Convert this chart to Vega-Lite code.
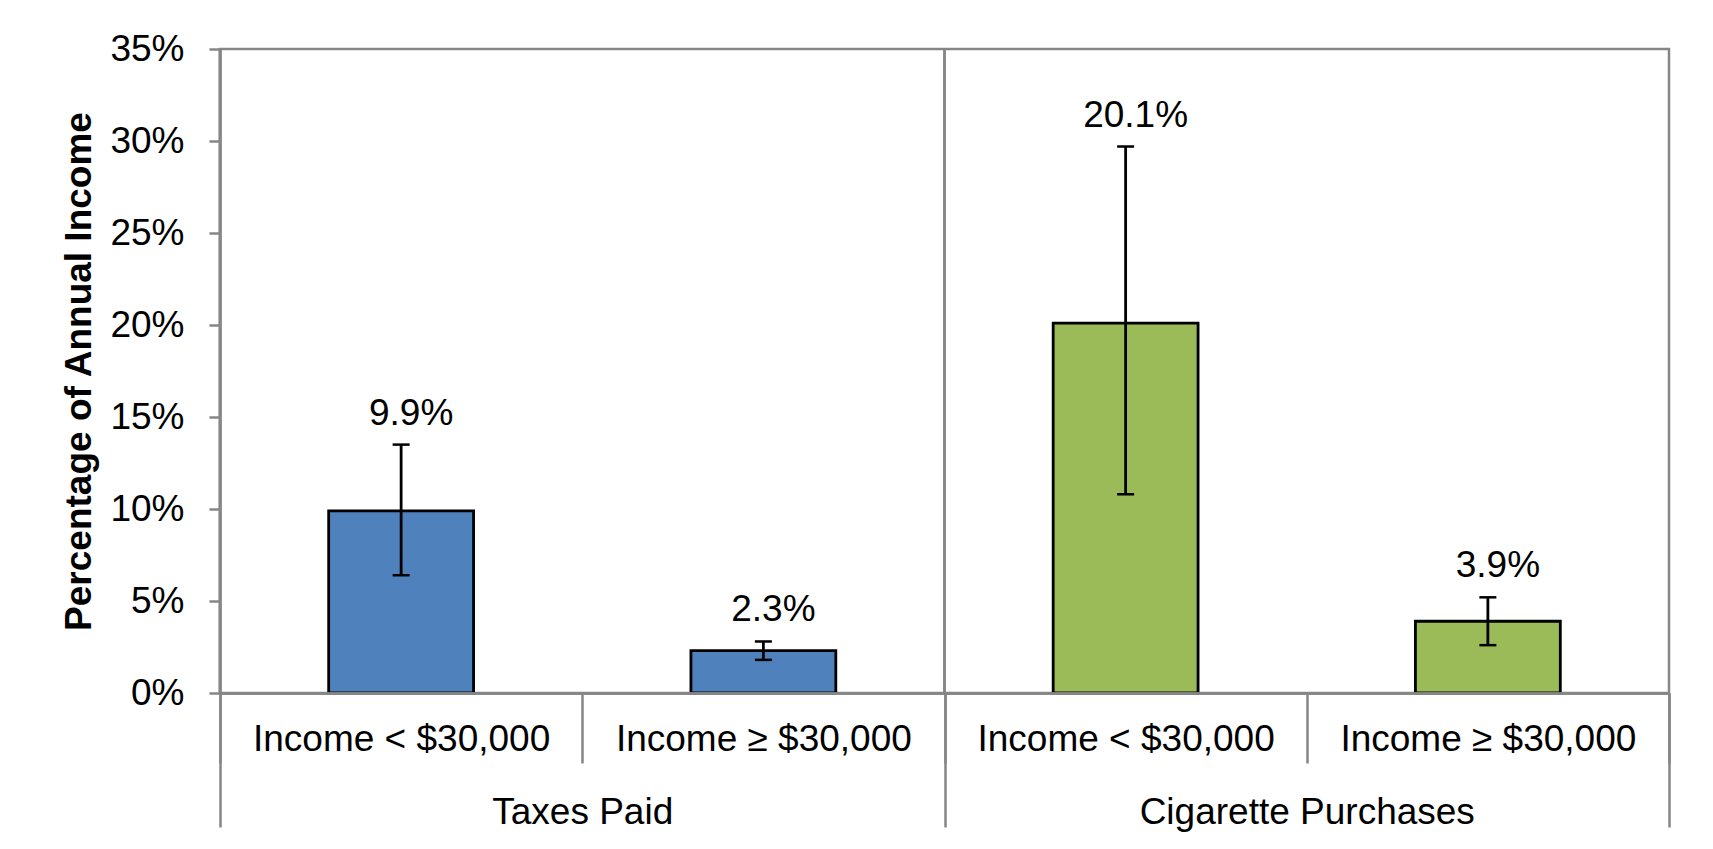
{
  "$schema": "https://vega.github.io/schema/vega-lite/v6.json",
  "autosize": {"type": "none"},
  "width": 1449,
  "height": 644,
  "padding": {"left": 220, "top": 49, "right": 44, "bottom": 156},
  "background": "white",
  "config": {
    "view": {"stroke": "#868686", "strokeWidth": 2.5},
    "font": "Liberation Sans",
    "axis": {
      "labelFont": "Liberation Sans",
      "labelColor": "#000000",
      "titleFont": "Liberation Sans",
      "titleColor": "#000000",
      "domainColor": "#868686",
      "tickColor": "#868686",
      "domainWidth": 2.5,
      "tickWidth": 2.5,
      "labelFontSize": 37,
      "titleFontSize": 37,
      "grid": false,
      "labelLimit": 0
    }
  },
  "data": {
    "values": [
      {"group": "Taxes Paid", "income": "Income < $30,000", "bar": "Taxes Paid|Income < $30,000", "value": 0.099, "lo": 0.064, "hi": 0.135},
      {"group": "Taxes Paid", "income": "Income ≥ $30,000", "bar": "Taxes Paid|Income ≥ $30,000", "value": 0.023, "lo": 0.018, "hi": 0.028},
      {"group": "Cigarette Purchases", "income": "Income < $30,000", "bar": "Cigarette Purchases|Income < $30,000", "value": 0.201, "lo": 0.108, "hi": 0.297},
      {"group": "Cigarette Purchases", "income": "Income ≥ $30,000", "bar": "Cigarette Purchases|Income ≥ $30,000", "value": 0.039, "lo": 0.026, "hi": 0.052}
    ]
  },
  "layer": [
    {
      "mark": {"type": "rule", "color": "#868686", "strokeWidth": 2.5},
      "encoding": {
        "x": {
          "field": "group",
          "type": "nominal",
          "bandPosition": 0,
          "sort": ["Taxes Paid", "Cigarette Purchases"],
          "scale": {"type": "band", "paddingInner": 0, "paddingOuter": 0},
          "axis": {
            "orient": "bottom",
            "title": null,
            "labelAngle": 0,
            "tickBand": "extent",
            "tickSize": 134,
            "labelPadding": -33,
            "labelBaseline": "top",
            "zindex": 1
          }
        }
      }
    },
    {
      "layer": [
        {
          "mark": {"type": "bar", "width": {"band": 0.4}, "stroke": "#000000", "strokeWidth": 2.8},
          "encoding": {
            "x": {
              "field": "bar",
              "type": "nominal",
              "sort": null,
              "scale": {"paddingInner": 0, "paddingOuter": 0},
              "axis": {
                "orient": "bottom",
                "title": null,
                "labelAngle": 0,
                "tickBand": "extent",
                "tickSize": 70,
                "labelPadding": -42,
                "labelBaseline": "top",
                "labelExpr": "split(datum.label, '|')[1]",
                "zindex": 1
              }
            },
            "y": {
              "field": "value",
              "type": "quantitative",
              "scale": {"domain": [0, 0.35], "nice": false},
              "axis": {
                "title": "Percentage of Annual Income",
                "titleFontWeight": "bold",
                "titlePadding": 11,
                "values": [0, 0.05, 0.1, 0.15, 0.2, 0.25, 0.3, 0.35],
                "format": ".0%",
                "tickSize": 11,
                "labelPadding": 25
              }
            },
            "color": {
              "field": "group",
              "type": "nominal",
              "scale": {"domain": ["Taxes Paid", "Cigarette Purchases"], "range": ["#4F81BD", "#9BBB59"]},
              "legend": null
            }
          }
        },
        {
          "mark": {"type": "rule", "color": "#000000", "strokeWidth": 2.8},
          "encoding": {
            "x": {"field": "bar", "type": "nominal", "sort": null},
            "y": {"field": "lo", "type": "quantitative"},
            "y2": {"field": "hi"}
          }
        },
        {
          "mark": {"type": "tick", "color": "#000000", "size": 17, "thickness": 2.5, "opacity": 1},
          "encoding": {
            "x": {"field": "bar", "type": "nominal", "sort": null},
            "y": {"field": "lo", "type": "quantitative"}
          }
        },
        {
          "mark": {"type": "tick", "color": "#000000", "size": 17, "thickness": 2.5, "opacity": 1},
          "encoding": {
            "x": {"field": "bar", "type": "nominal", "sort": null},
            "y": {"field": "hi", "type": "quantitative"}
          }
        },
        {
          "mark": {"type": "text", "fontSize": 37, "dy": -20, "dx": 10, "baseline": "alphabetic", "color": "#000000", "font": "Liberation Sans"},
          "encoding": {
            "x": {"field": "bar", "type": "nominal", "sort": null},
            "y": {"field": "hi", "type": "quantitative"},
            "text": {"field": "value", "type": "quantitative", "format": ".1%"}
          }
        }
      ]
    }
  ],
  "resolve": {"scale": {"x": "independent"}, "axis": {"x": "independent"}}
}
